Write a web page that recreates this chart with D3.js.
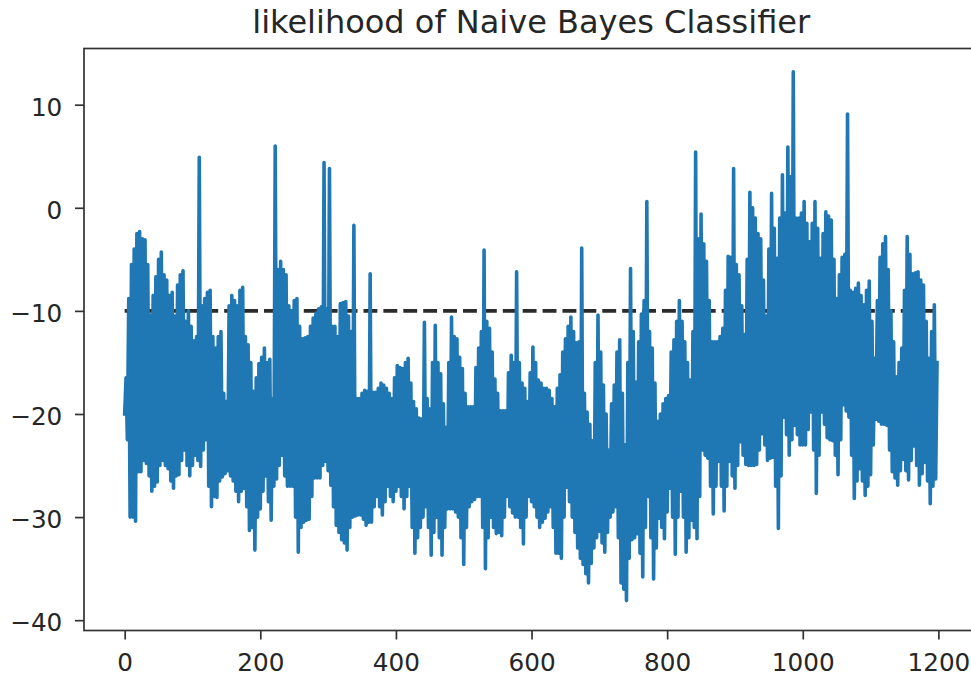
<!DOCTYPE html>
<html>
<head>
<meta charset="utf-8">
<script src="https://cdn.jsdelivr.net/npm/d3@7"></script>
<style>
  html, body { margin: 0; padding: 0; background: #fff; }
  svg { display: block; font-family: "DejaVu Sans", sans-serif; }
</style>
</head>
<body>
<svg id="chart" width="971" height="679"></svg>
<script>
// ---- data ----
const chartTitle = "likelihood of Naive Bayes Classifier";
// one recorded log-likelihood every `iterStride` iterations
const iterStride = 2;
const likelihood = [
  -20, -16.5, -22.5, -8.8, -30, -5.5, -30, -4.0, -30.4, -2.5,
  -25.6, -2.3, -25.6, -3.0, -24.5, -3.1, -24.8, -5.5, -26, -10.4,
  -27.5, -8.5, -27, -6.7, -26.6, -5.0, -25, -4.3, -24.5, -6.5,
  -25, -7.0, -25.3, -8.5, -26.5, -8.2, -27.2, -10.5, -26, -7.5,
  -25.9, -6.5, -24.5, -6.1, -23.5, -11.0, -25, -10.0, -26.0, -11.5,
  -25, -12.9, -24.0, -12.5, -24.5, 4.9, -25.1, -9.5, -23.5, -8.8,
  -22.5, -8.2, -27, -8.0, -29.0, -12.5, -28, -13.6, -28.1, -12.5,
  -26.5, -12.0, -26.1, -18.0, -25.8, -18.8, -25.5, -9.5, -26, -8.5,
  -26.5, -9.0, -27.5, -9.5, -28.5, -8.0, -27.5, -7.7, -27.2, -12.5,
  -29, -13.3, -31.3, -15.0, -31, -17.8, -33.2, -16.5, -30, -15.1,
  -29.2, -14.5, -27.5, -13.6, -26.0, -15.0, -28.5, -14.7, -30.3, -18.5,
  -27, 6.0, -26.3, -6.0, -25, -5.2, -24.0, -6.0, -26, -6.5,
  -27.0, -9.5, -27, -10.0, -27.0, -9.0, -30, -8.8, -33.4, -11.5,
  -31, -12.7, -30.5, -12.6, -30.3, -12.5, -30.2, -11.5, -28, -10.7,
  -26.2, -10.2, -26.2, -9.8, -26.2, -9.6, -25, 4.4, -24.6, -9.8,
  -25.5, 3.8, -26.9, -11.5, -29, -11.5, -30.8, -12.5, -31.5, -9.3,
  -32.2, -9.2, -32.5, -9.1, -33.2, -10.5, -31, -12.0, -30, -1.7,
  -29.9, -18.5, -29.8, -18.5, -29.8, -18.0, -30.2, -17.7, -30.8, -17.8,
  -30.5, -6.4, -30.5, -17.9, -29, -17.9, -28.0, -17.5, -29, -17.0,
  -29.8, -17.2, -28.5, -17.5, -27.0, -18.0, -28, -18.5, -28.5, -16.5,
  -27.5, -15.3, -27.0, -15.5, -28, -15.6, -29.2, -15.0, -28, -14.6,
  -27.0, -17.0, -31, -18.8, -33.5, -19.5, -32, -20.4, -31.0, -20.5,
  -30, -11.1, -29.0, -18.5, -31, -19.5, -33.7, -15.0, -31.5, -11.4,
  -30.0, -15.0, -32, -16.1, -33.7, -19.0, -31, -21.3, -29.2, -15.0,
  -29.2, -10.6, -29.2, -12.5, -29.5, -12.7, -30.0, -14.5, -32, -15.6,
  -34.6, -18.0, -31, -19.3, -29.0, -19.3, -28.5, -19.3, -28.3, -15.5,
  -28, -13.6, -28.0, -12.0, -31, -4.1, -35.0, -11.0, -32, -11.7,
  -30.0, -14.0, -31, -16.6, -31.6, -18.0, -31.5, -19.7, -31.8, -19.7,
  -30, -19.7, -28.0, -16.0, -29, -14.3, -29.6, -15.0, -30, -6.2,
  -30.0, -15.0, -31, -17.0, -32.6, -17.5, -30, -18.8, -28.0, -16.0,
  -28.5, -13.5, -29.0, -15.0, -30, -16.7, -31.0, -17.0, -30.5, -17.5,
  -30.1, -17.5, -29.5, -17.7, -29.0, -18.5, -31, -19.3, -33.5, -17.5,
  -33.5, -16.2, -34.0, -14.0, -30, -12.7, -27.1, -11.5, -28.5, -10.6,
  -30.0, -12.0, -31.5, -13.1, -33.0, -13.0, -34, -3.9, -34.6, -18.0,
  -35.5, -19.8, -36.4, -21.0, -34.5, -22.6, -33.0, -15.0, -32, -10.4,
  -31.4, -14.0, -32.5, -17.2, -33.4, -20.0, -31.5, -23.5, -30.0, -19.0,
  -29.5, -17.2, -29.0, -14.0, -32, -12.8, -36.4, -18.0, -37, -23.0,
  -38.1, -15.0, -34, -5.9, -32.2, -12.0, -32, -16.9, -31.6, -13.0,
  -33.5, -10.3, -35.8, -9.0, -31, 0.6, -28.0, -12.0, -32, -13.6,
  -36.0, -17.0, -33, -20.7, -30.1, -20.0, -31, -19.0, -32.1, -18.5,
  -29.5, -18.2, -27.2, -14.0, -30, -12.8, -33.6, -11.0, -30, -9.0,
  -27.5, -11.0, -30, -13.0, -33.4, -15.0, -32, -16.7, -30.3, -12.0,
  -31, 5.4, -32.1, -3.0, -28, -0.6, -23.5, -3.5, -24, -5.2,
  -24.3, -9.0, -27, -13.0, -29.7, -13.0, -27, -13.0, -24.6, -12.5,
  -27, -11.7, -29.4, -8.0, -27, -4.7, -24.6, -4.8, -26, 3.8,
  -27.2, -5.5, -25, -6.5, -22.7, -9.5, -24, -12.3, -24.9, -5.0,
  -25, 1.5, -25.0, 0.0, -25, -1.0, -24.9, -2.5, -23.5, -3.0,
  -21.9, -7.0, -23, -10.5, -24.5, -4.0, -24.3, 1.4, -24.2, -2.0,
  -27, -4.9, -31.1, -1.0, -26, 3.2, -20.3, -0.5, -22, 5.9,
  -24.0, 3.0, -22.5, 13.2, -21.1, -1.0, -22, -1.0, -23.0, -0.5,
  -23, 0.6, -23.0, -1.5, -21.5, -3.3, -19.8, -1.5, -23.5, 0.6,
  -27.7, -2.0, -24, -4.9, -19.8, -2.5, -21, -0.4, -22.3, -0.8,
  -22.5, -1.2, -22.6, -5.0, -24, -8.8, -25.9, -6.5, -22.5, -4.8,
  -19.1, -4.5, -19.7, 9.1, -20.3, -8.0, -24, -8.2, -28.2, -7.8,
  -26.5, -7.3, -25.3, -8.5, -26.5, -9.4, -27.9, -8.0, -27, -7.1,
  -25.9, -11.0, -23, -14.6, -20.5, -9.0, -20.7, -4.8, -21.0, -3.5,
  -21, -2.8, -21.1, -6.0, -23.5, -10.0, -25.6, -13.0, -26.2, -16.4,
  -26.9, -15.0, -25.5, -13.6, -24.4, -8.0, -25.5, -2.8, -26.4, -4.5,
  -24.5, -6.4, -23.1, -6.3, -25, -6.2, -26.9, -7.0, -25.8, -7.5,
  -24.7, -11.0, -26.5, -14.6, -28.7, -12.0, -27, -9.4, -26.3, -15.0
];
const threshold = -10;
const thresholdSpan = [0, 1199];
const xTickValues = [0, 200, 400, 600, 800, 1000, 1200];
const yTickValues = [-40, -30, -20, -10, 0, 10];

// ---- layout ----
const plot = { left: 84, right: 978.4, top: 48.5, bottom: 630.5 };
const tickFont = 24.7;
const titleFont = 32;
const ink = "#262626";
const spineColor = "#333";

const x = d3.scaleLinear().domain([-60, 1259]).range([plot.left, plot.right]);
const y = d3.scaleLinear().domain([-41.0, 15.45]).range([plot.bottom, plot.top]);

const svg = d3.select("#chart");
const fmt = d => (d < 0 ? "\u2212" + Math.abs(d) : String(d));

svg.append("defs").append("clipPath").attr("id", "plot-clip")
  .append("rect")
  .attr("x", plot.left).attr("y", plot.top)
  .attr("width", plot.right - plot.left).attr("height", plot.bottom - plot.top);

const layer = svg.append("g").attr("clip-path", "url(#plot-clip)");

// threshold reference line (drawn beneath the series)
layer.append("line")
  .attr("x1", x(thresholdSpan[0])).attr("x2", x(thresholdSpan[1]))
  .attr("y1", y(threshold)).attr("y2", y(threshold))
  .attr("stroke", "#2b2b2b")
  .attr("stroke-width", 3.6)
  .attr("stroke-dasharray", "13.9,6");

// likelihood trace
const line = d3.line()
  .x((d, i) => x(i * iterStride))
  .y(d => y(d));

layer.append("path")
  .datum(likelihood)
  .attr("d", line)
  .attr("fill", "none")
  .attr("stroke", "#1f77b4")
  .attr("stroke-width", 3.6)
  .attr("stroke-linejoin", "round")
  .attr("stroke-linecap", "square");

// axes
const xAxis = d3.axisBottom(x).tickValues(xTickValues).tickFormat(fmt)
  .tickSize(9).tickPadding(13.5);
const yAxis = d3.axisLeft(y).tickValues(yTickValues).tickFormat(fmt)
  .tickSize(9).tickPadding(12.7);

const gx = svg.append("g").attr("transform", `translate(0,${plot.bottom})`).call(xAxis);
const gy = svg.append("g").attr("transform", `translate(${plot.left},0)`).call(yAxis);

[gx, gy].forEach(g => {
  g.select(".domain").remove();
  g.selectAll(".tick line").attr("stroke", spineColor).attr("stroke-width", 1.7);
  g.selectAll(".tick text")
    .attr("fill", ink)
    .style("font-family", "'DejaVu Sans', sans-serif")
    .style("font-size", tickFont + "px");
});
gy.selectAll(".tick text").attr("dy", "0.425em");

// frame
svg.append("rect")
  .attr("x", plot.left).attr("y", plot.top)
  .attr("width", plot.right - plot.left).attr("height", plot.bottom - plot.top)
  .attr("fill", "none")
  .attr("stroke", spineColor)
  .attr("stroke-width", 1.7);

// title
svg.append("text")
  .attr("x", (plot.left + plot.right) / 2)
  .attr("y", 33)
  .attr("text-anchor", "middle")
  .attr("fill", ink)
  .style("font-size", titleFont + "px")
  .text(chartTitle);
</script>
</body>
</html>
